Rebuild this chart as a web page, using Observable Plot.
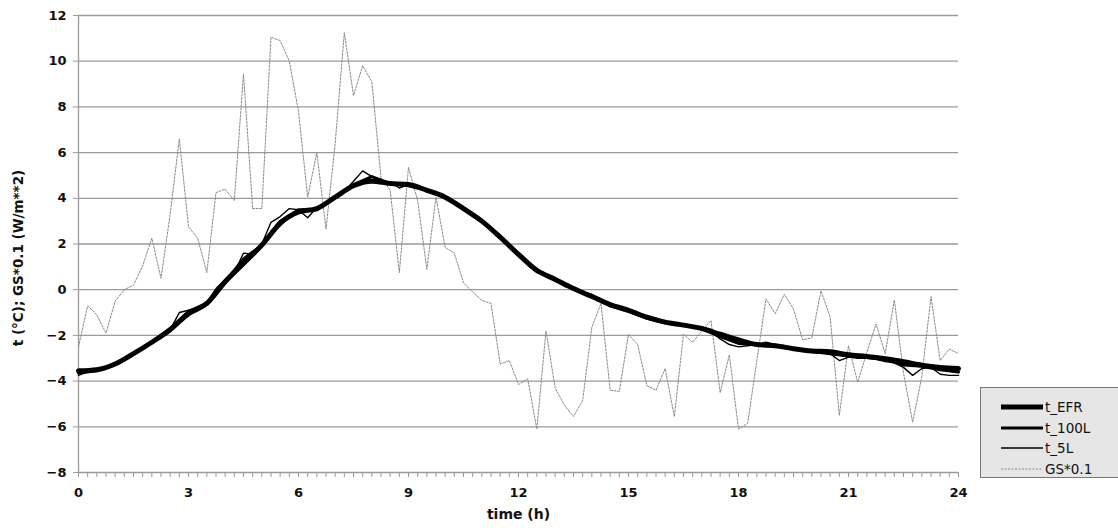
<!DOCTYPE html>
<html>
<head>
<meta charset="utf-8">
<script src="https://cdn.jsdelivr.net/npm/d3@7"></script>
<script src="https://cdn.jsdelivr.net/npm/@observablehq/plot@0.6"></script>
<style>
  body { margin: 0; background: #fff; }
  #wrap { position: relative; width: 1118px; height: 528px; overflow: hidden; }
  #legend { position: absolute; left: 980px; top: 387px; width: 150px; height: 91px;
    background: #e6e6e6; border: 1px solid #777; box-sizing: border-box;
    font-family: "DejaVu Sans", Verdana, sans-serif; font-size: 13.5px; color: #111; }
  .row { position: absolute; left: 0; height: 20px; display: flex; align-items: center; }
  .row svg { margin-left: 20px; margin-right: 2px; }
</style>
</head>
<body>
<div id="wrap"><div id="chart"></div><div id="legend"></div></div>
<script>
// time stamps (h)
const quarterHours = d3.range(0, 24.001, 0.25);
const halfHours = d3.range(0, 24.001, 0.5);
const xTicks = [0, 3, 6, 9, 12, 15, 18, 21, 24];
const yTicks = [-8, -6, -4, -2, 0, 2, 4, 6, 8, 10, 12];
const yLabel = "t (°C); GS*0.1 (W/m**2)";
const xLabel = "time (h)";

// global solar radiation * 0.1 (every 15 min)
const gs = [-2.5,-0.7,-1.1,-1.9,-0.5,0.0,0.2,1.05,2.25,0.5,3.3,6.6,2.75,2.25,0.75,4.25,4.4,3.9,9.45,3.55,
  3.55,11.05,10.9,10.0,7.8,4.05,6.0,2.65,6.4,11.25,8.5,9.8,9.1,4.9,4.35,0.75,5.35,3.9,0.9,4.05,
  1.85,1.6,0.3,-0.1,-0.47,-0.6,-3.25,-3.1,-4.15,-3.9,-6.1,-1.8,-4.3,-5.05,-5.55,-4.85,-1.65,-0.6,-4.4,-4.45,
  -1.95,-2.4,-4.2,-4.4,-3.45,-5.55,-1.95,-2.3,-1.8,-1.35,-4.5,-2.85,-6.1,-5.85,-3.1,-0.4,-1.05,-0.2,-0.85,-2.2,
  -2.1,-0.05,-1.2,-5.5,-2.45,-4.05,-2.75,-1.5,-2.8,-0.45,-3.65,-5.8,-3.8,-0.3,-3.1,-2.6,-2.8];

// temperatures (every 30 min)
const tEFR = [-3.55,-3.5,-3.25,-2.8,-2.3,-1.75,-1.05,-0.6,0.35,1.15,1.95,2.9,3.4,3.55,4.05,4.55,4.75,4.65,4.6,4.35,
  4.05,3.55,3.0,2.3,1.55,0.85,0.45,0.05,-0.3,-0.65,-0.9,-1.2,-1.42,-1.55,-1.7,-1.95,-2.2,-2.4,-2.45,-2.58,
  -2.68,-2.72,-2.85,-2.92,-3.02,-3.15,-3.3,-3.4,-3.45];
const t100L = [-3.65,-3.55,-3.25,-2.8,-2.3,-1.7,-0.95,-0.6,0.35,1.35,1.95,3.0,3.5,3.5,4.05,4.6,4.95,4.65,4.55,4.35,
  4.05,3.55,3.0,2.3,1.5,0.8,0.45,0.05,-0.3,-0.7,-0.95,-1.25,-1.45,-1.55,-1.7,-2.05,-2.35,-2.4,-2.45,-2.6,
  -2.7,-2.8,-2.9,-2.95,-3.05,-3.3,-3.35,-3.5,-3.6];
// every 15 min
const t5L = [-3.75,-3.6,-3.55,-3.45,-3.25,-3.05,-2.85,-2.6,-2.35,-2.05,-1.75,-1.0,-0.9,-0.8,-0.55,0.05,0.45,0.75,1.6,1.55,
  2.0,2.95,3.2,3.55,3.5,3.15,3.6,3.8,4.05,4.3,4.75,5.2,4.95,4.75,4.7,4.45,4.6,4.5,4.35,4.2,
  4.05,3.85,3.55,3.3,3.0,2.7,2.3,1.9,1.55,1.2,0.75,0.7,0.45,0.15,0.05,-0.1,-0.2,-0.4,-0.6,-0.75,
  -0.85,-1.05,-1.2,-1.25,-1.4,-1.5,-1.5,-1.6,-1.7,-1.85,-2.15,-2.4,-2.5,-2.45,-2.4,-2.3,-2.4,-2.5,-2.6,-2.65,
  -2.7,-2.7,-2.8,-3.1,-2.95,-3.0,-3.0,-3.05,-3.15,-3.2,-3.4,-3.75,-3.45,-3.4,-3.7,-3.75,-3.75];

const series = [
  {name: "t_EFR", width: 5, color: "#000", dash: null},
  {name: "t_100L", width: 3, color: "#000", dash: null},
  {name: "t_5L", width: 1.4, color: "#000", dash: null},
  {name: "GS*0.1", width: 1, color: "#8a8a8a", dash: "2,1.5"}
];

const gsData = quarterHours.map((t, i) => ({t, v: gs[i]}));
const efrData = halfHours.map((t, i) => ({t, v: tEFR[i]}));
const l100Data = halfHours.map((t, i) => ({t, v: t100L[i]}));
const l5Data = quarterHours.map((t, i) => ({t, v: t5L[i]}));

const chart = Plot.plot({
  width: 1118,
  height: 528,
  marginLeft: 78,
  marginRight: 160,
  marginTop: 15,
  marginBottom: 56,
  style: {fontFamily: "'DejaVu Sans', Verdana, sans-serif", fontSize: "12px", fontWeight: "bold", color: "#111", background: "#fff"},
  x: {domain: [0, 24]},
  y: {domain: [-8, 12]},
  marks: [
    Plot.gridY(yTicks, {stroke: "#9a9a9a", strokeOpacity: 1, strokeWidth: 1.3}),
    Plot.ruleX([0], {stroke: "#9a9a9a", strokeWidth: 1.3}),
    Plot.axisY(yTicks, {tickSize: 5, tickPadding: 7, stroke: "#9a9a9a", fill: "#111", fontWeight: "bold", fontSize: 13, label: null}),
    Plot.text([yLabel], {frameAnchor: "left", dx: -60, dy: 14, rotate: -90, textAnchor: "middle", fontWeight: "bold", fontSize: 13.5, fill: "#111"}),
    Plot.axisX(quarterHours, {tickSize: 5, text: null, stroke: "#9a9a9a", label: null}),
    Plot.axisX(xTicks, {tickSize: 0, tickPadding: 15, fill: "#111", fontWeight: "bold", fontSize: 13, label: null}),
    Plot.text([xLabel], {frameAnchor: "bottom", dy: 46, fontWeight: "bold", fontSize: 14, fill: "#111"}),
    Plot.line(gsData, {x: "t", y: "v", stroke: series[3].color, strokeWidth: series[3].width, strokeDasharray: series[3].dash}),
    Plot.line(efrData, {x: "t", y: "v", stroke: "#000", strokeWidth: series[0].width, curve: "monotone-x"}),
    Plot.line(l100Data, {x: "t", y: "v", stroke: "#000", strokeWidth: series[1].width}),
    Plot.line(l5Data, {x: "t", y: "v", stroke: "#000", strokeWidth: series[2].width})
  ]
});
document.getElementById("chart").appendChild(chart);

// legend
const legend = document.getElementById("legend");
series.forEach((s, i) => {
  const row = document.createElement("div");
  row.className = "row";
  row.style.top = (9 + i * 20.5) + "px";
  row.innerHTML = `<svg width="42" height="10"><line x1="0" x2="42" y1="5" y2="5" stroke="${s.color}" stroke-width="${s.width}" ${s.dash ? `stroke-dasharray="${s.dash}"` : ""}/></svg><span>${s.name}</span>`;
  legend.appendChild(row);
});
</script>
</body>
</html>
